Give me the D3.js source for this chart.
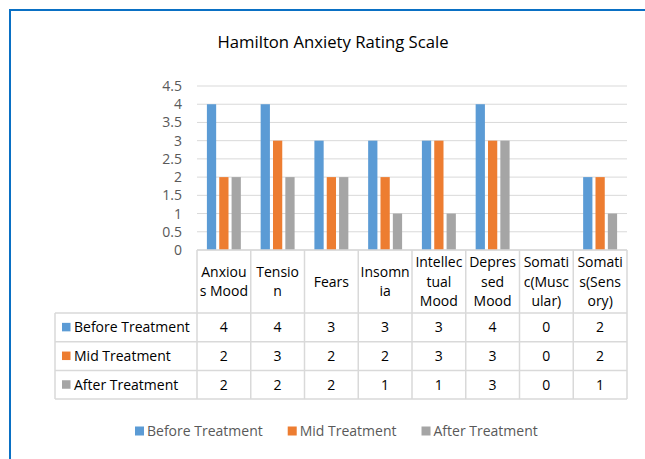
<!DOCTYPE html>
<html>
<head>
<meta charset="utf-8">
<script src="https://cdn.jsdelivr.net/npm/d3@7"></script>
<style>
  body { margin: 0; background: #fff; }
  svg { display: block; font-family: "Open Sans", "Noto Sans", sans-serif; }
</style>
</head>
<body>
<svg id="chart"></svg>
<script>
var categories = ["Anxious Mood", "Tension", "Fears", "Insomnia", "Intellectual Mood",
                  "Depressed Mood", "Somatic(Muscular)", "Somatis(Sensory)"];
// category labels as they wrap inside the data table cells
var categoryLines = [["Anxiou", "s Mood"], ["Tensio", "n"], ["Fears"], ["Insomn", "ia"],
                     ["Intellec", "tual", "Mood"], ["Depres", "sed", "Mood"],
                     ["Somati", "c(Musc", "ular)"], ["Somati", "s(Sens", "ory)"]];
var seriesNames = ["Before Treatment", "Mid Treatment", "After Treatment"];
var beforeTreatment = [4, 4, 3, 3, 3, 4, 0, 2];
var midTreatment = [2, 3, 2, 2, 3, 3, 0, 2];
var afterTreatment = [2, 2, 2, 1, 1, 3, 0, 1];
var yTicks = [0, 0.5, 1, 1.5, 2, 2.5, 3, 3.5, 4, 4.5];

var seriesValues = [beforeTreatment, midTreatment, afterTreatment];
var colors = ["#5b9bd5", "#ed7d31", "#a5a5a5"];

var W = 645, H = 459;
var plotLeft = 197, plotRight = 627, plotTop = 86, plotBottom = 250;
var headerBottom = 313, rowH = 28.7, tableLeft = 55;
var gridColor = "#d9d9d9";

var svg = d3.select("#chart").attr("width", W).attr("height", H);

svg.append("rect").attr("width", W).attr("height", H).attr("fill", "#fff");

// outer chart border (only top and left are in frame)
svg.append("rect")
    .attr("x", 10).attr("y", 10)
    .attr("width", 700).attr("height", 500)
    .attr("fill", "none")
    .attr("stroke", "#0a70c4")
    .attr("stroke-width", 2);

svg.append("text")
    .attr("x", 333).attr("y", 48)
    .attr("text-anchor", "middle")
    .attr("font-size", 16.7)
    .attr("fill", "#000")
    .text("Hamilton Anxiety Rating Scale");

var x0 = d3.scaleBand()
    .domain(categories)
    .range([plotLeft, plotRight]);

var pad = 9.9;
var x1 = d3.scaleBand()
    .domain(seriesNames)
    .range([pad, x0.bandwidth() - pad])
    .paddingInner(0.25);

var y = d3.scaleLinear()
    .domain([0, 4.5])
    .range([plotBottom, plotTop]);

// gridlines
svg.append("g").selectAll("line")
    .data(yTicks)
  .enter().append("line")
    .attr("x1", plotLeft).attr("x2", plotRight)
    .attr("y1", function(d) { return y(d); })
    .attr("y2", function(d) { return y(d); })
    .attr("stroke", gridColor)
    .attr("stroke-width", 1);

var yAxis = d3.axisLeft(y)
    .tickValues(yTicks)
    .tickSize(0)
    .tickPadding(15)
    .tickFormat(d3.format("~g"));

var gy = svg.append("g")
    .attr("transform", "translate(" + plotLeft + ",0)")
    .call(yAxis);
gy.select(".domain").remove();
gy.attr("font-family", null).attr("font-size", null);
gy.selectAll("text")
    .attr("font-size", 14)
    .attr("fill", "#595959");

// bars
var groups = svg.append("g").selectAll("g")
    .data(categories)
  .enter().append("g")
    .attr("transform", function(d) { return "translate(" + x0(d) + ",0)"; });

groups.selectAll("rect")
    .data(function(d, i) {
      return seriesNames.map(function(s, k) { return {series: s, value: seriesValues[k][i], k: k}; });
    })
  .enter().append("rect")
    .attr("x", function(d) { return x1(d.series); })
    .attr("width", x1.bandwidth())
    .attr("y", function(d) { return y(d.value); })
    .attr("height", function(d) { return y(0) - y(d.value); })
    .attr("fill", function(d) { return colors[d.k]; });

// data table
var table = svg.append("g")
    .attr("stroke", gridColor)
    .attr("stroke-width", 1.5)
    .attr("fill", "none");

var rowY = d3.range(seriesNames.length + 1).map(function(i) { return headerBottom + i * rowH; });
var tableBottom = rowY[rowY.length - 1];

table.append("line")
    .attr("x1", plotLeft).attr("x2", plotRight)
    .attr("y1", plotBottom).attr("y2", plotBottom);

table.selectAll(".hline")
    .data(rowY)
  .enter().append("line")
    .attr("class", "hline")
    .attr("x1", tableLeft).attr("x2", plotRight)
    .attr("y1", function(d) { return d; })
    .attr("y2", function(d) { return d; });

var colEdges = categories.map(function(c) { return x0(c); }).concat([plotRight]);
table.selectAll(".vline")
    .data(colEdges)
  .enter().append("line")
    .attr("class", "vline")
    .attr("x1", function(d) { return d; }).attr("x2", function(d) { return d; })
    .attr("y1", plotBottom).attr("y2", tableBottom);

table.append("line")
    .attr("x1", tableLeft).attr("x2", tableLeft)
    .attr("y1", headerBottom).attr("y2", tableBottom);

// header cells
var headerMid = (plotBottom + headerBottom) / 2;
var lineH = 19.7;
svg.append("g").selectAll("text")
    .data(categories)
  .enter().append("text")
    .attr("text-anchor", "middle")
    .attr("font-size", 14)
    .attr("fill", "#000")
    .each(function(d, i) {
      var lines = categoryLines[i];
      var t = d3.select(this);
      lines.forEach(function(l, j) {
        t.append("tspan")
          .attr("x", x0(d) + x0.bandwidth() / 2)
          .attr("y", headerMid + 5 + (j - (lines.length - 1) / 2) * lineH)
          .text(l);
      });
    });

// series rows
var rows = svg.append("g").selectAll("g")
    .data(seriesNames)
  .enter().append("g")
    .attr("transform", function(d, k) { return "translate(0," + (rowY[k] + rowH / 2) + ")"; });

rows.append("rect")
    .attr("x", 62).attr("y", -4.5)
    .attr("width", 8.5).attr("height", 8.5)
    .attr("fill", function(d, k) { return colors[k]; });

rows.append("text")
    .attr("x", 74).attr("y", 5)
    .attr("font-size", 14)
    .attr("fill", "#000")
    .text(function(d) { return d; });

rows.selectAll(".val")
    .data(function(d, k) { return seriesValues[k]; })
  .enter().append("text")
    .attr("class", "val")
    .attr("x", function(d, i) { return x0(categories[i]) + x0.bandwidth() / 2; })
    .attr("y", 5)
    .attr("text-anchor", "middle")
    .attr("font-size", 14)
    .attr("fill", "#000")
    .text(function(d) { return d; });

// bottom legend
var legend = svg.append("g").attr("transform", "translate(0,431)");
var lx = 135;
seriesNames.forEach(function(s, k) {
  legend.append("rect")
    .attr("x", lx).attr("y", -4.5)
    .attr("width", 9).attr("height", 9)
    .attr("fill", colors[k]);
  var t = legend.append("text")
    .attr("x", lx + 12).attr("y", 5)
    .attr("font-size", 14)
    .attr("fill", "#595959")
    .text(s);
  lx += 12 + t.node().getComputedTextLength() + 25;
});
</script>
</body>
</html>
